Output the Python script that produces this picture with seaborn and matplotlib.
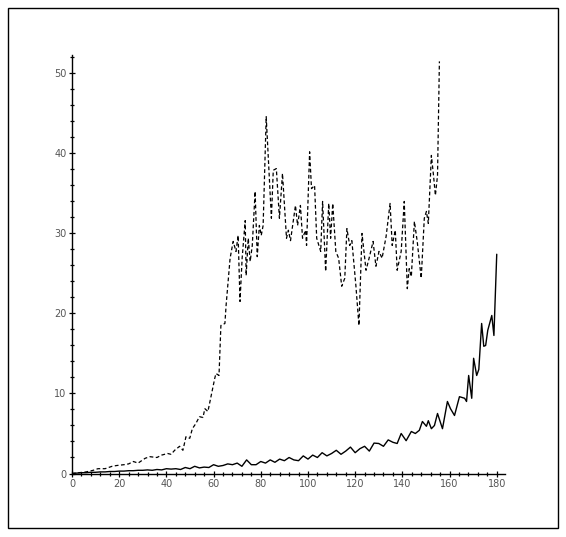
import matplotlib
matplotlib.use("Agg")
import matplotlib.pyplot as plt
import seaborn as sns
from matplotlib.patches import Rectangle
from matplotlib.ticker import MultipleLocator

# dashed series
dash_x = [0, 3, 6, 9, 11, 14, 17, 19, 22, 24, 26, 28, 31, 33, 36, 38, 40.5, 42, 43.5,
          45.6, 47, 48.3, 49.9, 51, 52.5, 54, 55.5, 56.3, 57.6, 59, 60.5, 61, 62.3, 63.1,
          64.8, 65.3, 67, 68.3, 69.5, 70.4, 71.2, 72.1, 73.4, 73.8, 74.7, 75.5, 76.4, 77.6,
          78.5, 79.4, 80.2, 81, 82.3, 84.5, 85.3, 86.6, 87.9, 89.2, 90.9, 91.7, 92.6, 94.7,
          95.6, 96.8, 97.7, 99, 99.4, 100.7, 101.5, 102.8, 103.7, 105.4, 106.2, 107.5,
          108.8, 109.6, 110.5, 111.8, 113, 114.3, 115.6, 116.5, 117.7, 118.6, 120.3, 121.6,
          122.9, 124.6, 125.9, 127.6, 128.8, 130.1, 131.4, 133.1, 134.8, 135.7, 137, 137.8,
          139.5, 140.8, 142.1, 142.9, 143.8, 145.1, 146.3, 148, 149.3, 150.2, 151, 152.3,
          153.2, 154, 154.9, 155.7]
dash_y = [0.0, 0.1, 0.2, 0.4, 0.6, 0.6, 0.9, 1.0, 1.1, 1.2, 1.5, 1.3, 1.9, 2.1, 2.0, 2.3,
          2.5, 2.4, 2.9, 3.4, 2.9, 4.6, 4.4, 5.6, 6.25, 7.1, 7.0, 8.1, 7.75, 9.75, 11.9,
          12.5, 12.25, 18.5, 18.75, 21, 26.9, 29, 27.75, 29.75, 21.5, 26.9, 31.6, 24.75,
          29.4, 26.5, 28.5, 35.25, 27.1, 31, 29.75, 31, 44.6, 31.9, 37.9, 38.1, 31.9, 37.5,
          29.4, 30.4, 29.1, 33.5, 31, 33.5, 29.4, 30.4, 28.5, 40.2, 35.6, 36, 29.4, 27.75,
          34, 25.25, 33.75, 29.4, 33.75, 27.75, 26.9, 23.4, 24.4, 30.6, 28.5, 29.1, 23.5,
          18.5, 30, 25.4, 26.9, 29, 25.9, 27.75, 26.9, 29.6, 33.75, 28.5, 30.4, 25.4, 27.75,
          34, 23.1, 25.6, 24.6, 31.5, 29, 24.4, 31.9, 32.75, 31.25, 39.75, 37.25, 34.75,
          37.25, 51.5]

# solid series
solid_x = list(range(0, 130, 2)) + [130, 132, 134, 136, 137.8, 139.5, 141.6, 143.8, 145.5,
          147.2, 148.5, 150.2, 151, 152.3, 153.6, 154.9, 157, 159.1, 160.4, 162.1, 164.2,
          166.4, 167.2, 168.1, 169.4, 170.2, 171.5, 172.4, 173.6, 174.5, 175.3, 176.2,
          177.9, 178.8, 180]
solid_y = [0, 0.05, 0.1, 0.1, 0.15, 0.15, 0.2, 0.2, 0.25, 0.25, 0.3, 0.3, 0.35, 0.35, 0.4,
           0.4, 0.45, 0.4, 0.5, 0.45, 0.6, 0.55, 0.6, 0.5, 0.75, 0.6, 0.9, 0.7, 0.8, 0.75,
           1.1, 0.9, 1.0, 1.2, 1.1, 1.3, 0.9, 1.7, 1.1, 1.1, 1.5, 1.3, 1.7, 1.4, 1.8, 1.6,
           2.0, 1.7, 1.6, 2.2, 1.8, 2.3, 2.0, 2.6, 2.2, 2.5, 2.9, 2.4, 2.8, 3.3, 2.6, 3.1,
           3.4, 2.8, 3.8] + [3.75, 3.4, 4.2, 3.9, 3.75, 5.0, 4.1, 5.25, 5.0, 5.4, 6.5, 5.9,
           6.6, 5.6, 6.0, 7.5, 5.6, 9.0, 8.1, 7.25, 9.6, 9.4, 9.0, 12.25, 9.4, 14.4, 12.25,
           13, 18.75, 15.9, 16, 17.9, 19.75, 17.25, 27.4]

sns.set_style("ticks")
plt.rcParams['font.family'] = ['DejaVu Sans']

fig = plt.figure(figsize=(5.66, 5.37), dpi=100)
ax = fig.add_axes([72 / 566, 1 - 473.5 / 537, 433 / 566, 418.5 / 537])

sns.lineplot(x=dash_x, y=dash_y, ax=ax, color="black", lw=0.9,
             linestyle=(0, (3, 2)), estimator=None)
sns.lineplot(x=solid_x, y=solid_y, ax=ax, color="black", lw=1.0, estimator=None)

ax.set_xlim(0, 183.5)
ax.set_ylim(0, 52.3)
for s in ["top", "right"]:
    ax.spines[s].set_visible(False)
for s in ["left", "bottom"]:
    ax.spines[s].set_color("black")
    ax.spines[s].set_linewidth(1.0)

ax.xaxis.set_major_locator(MultipleLocator(20))
ax.xaxis.set_minor_locator(MultipleLocator(4))
ax.yaxis.set_major_locator(MultipleLocator(10))
ax.yaxis.set_minor_locator(MultipleLocator(2))
ax.tick_params(which="both", bottom=True, left=True, top=False, right=False)
ax.tick_params(which="major", direction="inout", length=5, width=0.9, colors="black",
               labelcolor="#555555", labelsize=7, pad=1.5)
ax.tick_params(which="minor", direction="inout", length=3, width=0.9, colors="black")
ax.set_xlabel("")
ax.set_ylabel("")

fig.patches.append(Rectangle((8 / 566, 1 - 528 / 537), 550 / 566, 520 / 537,
                             transform=fig.transFigure, fill=False, lw=1,
                             edgecolor="black"))

fig.savefig("out.png", dpi=100)
